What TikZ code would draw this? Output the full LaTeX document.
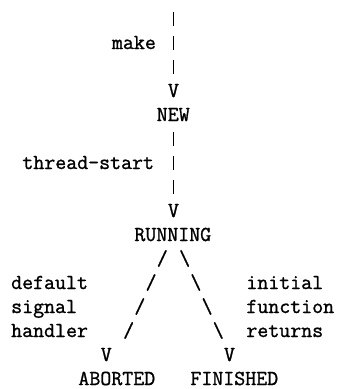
\documentclass[tikz,border=0pt]{standalone}
\usepackage{fontspec}
\newfontfamily\asciifont[FakeBold=1.2]{Latin Modern Mono}
\begin{document}
\begin{tikzpicture}[x=1pt,y=1pt,
  ascii/.style={anchor=base west, inner sep=0pt, outer sep=0pt,
    font=\fontsize{21.3}{24}\selectfont\asciifont}]
% one character cell is 11.2pt wide, one text line is 24pt high
\newcommand\cell[4]{\node[ascii] (#1) at ({#2*11.2}, {-(25+24*#3)}) {#4};}
% the short vertical bar of the connector lines
\newcommand\vbar{\makebox[11.2pt]{\rule[-0.5pt]{1.5pt}{13.5pt}}}
\useasboundingbox (0,0) rectangle (338,-389);
% make -> NEW
\cell{bar1}{15}{0}{\vbar}
\cell{make}{10}{1}{make}
\cell{bar2}{15}{1}{\vbar}
\cell{bar3}{15}{2}{\vbar}
\cell{tipnew}{15}{3}{V}
\cell{new}{14}{4}{NEW}
% thread-start -> RUNNING
\cell{bar4}{15}{5}{\vbar}
\cell{tstart}{2}{6}{thread-start}
\cell{bar5}{15}{6}{\vbar}
\cell{bar6}{15}{7}{\vbar}
\cell{tiprun}{15}{8}{V}
\cell{running}{12}{9}{RUNNING}
% the two branches out of RUNNING
\cell{sla}{14}{10}{/}
\cell{bsa}{16}{10}{\textbackslash}
\cell{dflt}{1}{11}{default}
\cell{slb}{13}{11}{/}
\cell{bsb}{17}{11}{\textbackslash}
\cell{init}{22}{11}{initial}
\cell{sig}{1}{12}{signal}
\cell{slc}{12}{12}{/}
\cell{bsc}{18}{12}{\textbackslash}
\cell{func}{22}{12}{function}
\cell{hand}{1}{13}{handler}
\cell{sld}{11}{13}{/}
\cell{bsd}{19}{13}{\textbackslash}
\cell{ret}{22}{13}{returns}
\cell{tipab}{9}{14}{V}
\cell{tipfin}{20}{14}{V}
\cell{aborted}{7}{15}{ABORTED}
\cell{finished}{17}{15}{FINISHED}
\end{tikzpicture}
\end{document}
